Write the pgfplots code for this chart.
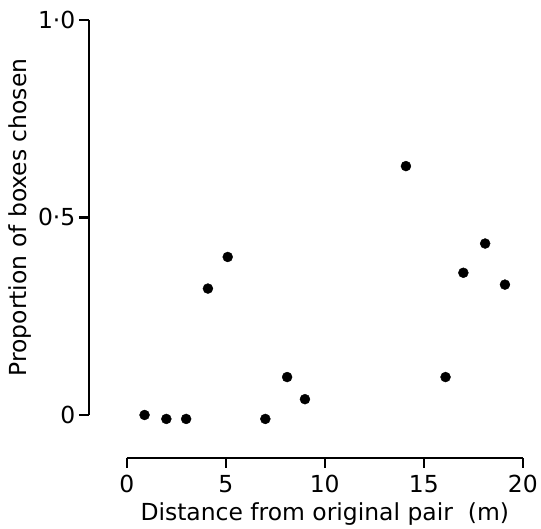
\documentclass[border=0pt]{standalone}
\usepackage{fontspec}
\setmainfont{DejaVu Sans}
\usepackage{pgfplots}
\pgfplotsset{compat=1.18}

\begin{document}
\begin{tikzpicture}
\begin{axis}[
    width=397pt, height=396pt,
    scale only axis,
    axis lines=left,
    axis line style={-, line width=2.4pt},
    axis x line shift=43pt,
    axis y line shift=38pt,
    xmin=0, xmax=20,
    ymin=0, ymax=1,
    clip=false,
    xtick={0,5,10,15,20},
    xticklabels={0,5,10,15,20},
    ytick={0,0.5,1},
    yticklabels={0,0·5,1·0},
    tick align=outside,
    major tick length=10pt,
    tick style={line width=2.4pt, black},
    font=\fontsize{23.5}{26}\selectfont,
    xticklabel style={yshift=-4pt},
    xlabel style={yshift=-3pt},
    xlabel={Distance from original pair~~(m)},
    ylabel={Proportion of boxes chosen},
]
\addplot[only marks, mark=*, mark size=5pt, black] coordinates {
    (0.9,0) (2.0,-0.01) (3.0,-0.01) (4.1,0.32) (5.1,0.40)
    (7.0,-0.01) (8.1,0.096) (9.0,0.04) (14.1,0.63)
    (16.1,0.096) (17.0,0.36) (18.1,0.434) (19.1,0.33)
};
% page margins as in the reference
\path (axis cs:-6.40,-0.2778) rectangle (axis cs:20.86,1.0505);
\end{axis}
\end{tikzpicture}
\end{document}
